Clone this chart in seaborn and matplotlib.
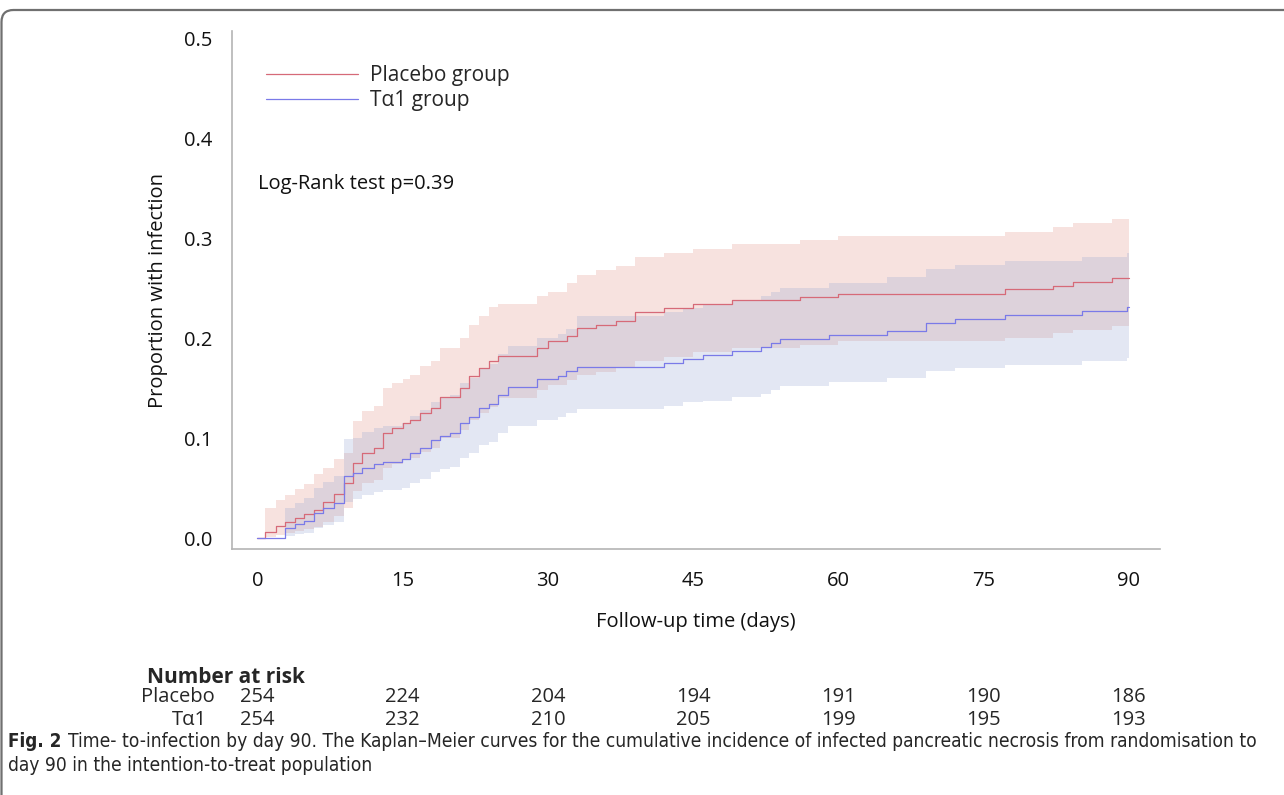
import matplotlib
matplotlib.use("Agg")
import matplotlib.pyplot as plt
import matplotlib.transforms as mtransforms
from matplotlib.patches import FancyBboxPatch
import seaborn as sns
import pandas as pd

# Kaplan-Meier cumulative incidence
placebo_days = [0, 0.8, 1.9, 2.9, 3.9, 4.8, 5.8, 6.8, 7.9, 8.9, 9.9, 10.8, 12, 13, 13.9, 15,
                15.8, 16.8, 17.9, 18.9, 20.9, 21.9, 22.9, 23.9, 24.9, 28.9, 30, 32, 33, 35,
                37, 39, 42, 45, 49, 56, 60, 77.2, 82.2, 84.2, 88.2, 90]
placebo_est = [0, 0.006, 0.012, 0.016, 0.020, 0.024, 0.028, 0.036, 0.044, 0.055, 0.075, 0.085,
               0.090, 0.105, 0.110, 0.115, 0.118, 0.125, 0.130, 0.141, 0.150, 0.162, 0.170,
               0.177, 0.182, 0.190, 0.197, 0.202, 0.210, 0.213, 0.217, 0.226, 0.230, 0.234,
               0.238, 0.242, 0.245, 0.250, 0.253, 0.257, 0.261, 0.261]
placebo_lo = [0, 0.001, 0.003, 0.005, 0.007, 0.009, 0.011, 0.016, 0.022, 0.030, 0.047, 0.055,
              0.058, 0.070, 0.074, 0.078, 0.080, 0.086, 0.090, 0.100, 0.108, 0.118, 0.125,
              0.131, 0.140, 0.148, 0.153, 0.158, 0.163, 0.166, 0.170, 0.177, 0.181, 0.186,
              0.190, 0.193, 0.197, 0.200, 0.205, 0.208, 0.212, 0.212]
placebo_hi = [0, 0.030, 0.038, 0.043, 0.049, 0.054, 0.064, 0.070, 0.079, 0.085, 0.117, 0.127,
              0.132, 0.150, 0.155, 0.159, 0.163, 0.172, 0.177, 0.190, 0.200, 0.213, 0.222,
              0.231, 0.234, 0.243, 0.247, 0.256, 0.264, 0.269, 0.273, 0.282, 0.286, 0.290,
              0.295, 0.299, 0.303, 0.307, 0.312, 0.316, 0.320, 0.320]

ta1_days = [0, 2.9, 3.9, 4.8, 5.8, 6.8, 7.9, 8.9, 9.9, 10.8, 12, 13, 14.9, 15.8, 16.8, 17.9,
            18.9, 19.9, 20.9, 21.9, 22.9, 23.9, 24.9, 25.9, 28.9, 31, 31.9, 33, 42, 44, 46,
            49, 52, 53, 54, 59, 65, 69, 72, 77.2, 85.2, 89.8, 90]
ta1_est = [0, 0.010, 0.014, 0.017, 0.025, 0.030, 0.035, 0.062, 0.065, 0.070, 0.074, 0.076,
           0.079, 0.085, 0.090, 0.098, 0.102, 0.105, 0.115, 0.121, 0.130, 0.134, 0.143, 0.151,
           0.159, 0.162, 0.167, 0.171, 0.175, 0.179, 0.183, 0.187, 0.191, 0.195, 0.199, 0.203,
           0.207, 0.215, 0.219, 0.223, 0.227, 0.231, 0.231]
ta1_lo = [0, 0.002, 0.004, 0.005, 0.010, 0.013, 0.016, 0.036, 0.039, 0.043, 0.046, 0.048,
          0.050, 0.055, 0.059, 0.066, 0.069, 0.071, 0.080, 0.085, 0.093, 0.096, 0.105, 0.112,
          0.118, 0.121, 0.125, 0.129, 0.132, 0.136, 0.137, 0.141, 0.144, 0.148, 0.152, 0.156,
          0.160, 0.167, 0.170, 0.173, 0.177, 0.180, 0.180]
ta1_hi = [0, 0.030, 0.035, 0.040, 0.050, 0.056, 0.062, 0.099, 0.100, 0.106, 0.110, 0.112,
          0.115, 0.122, 0.128, 0.136, 0.140, 0.143, 0.155, 0.160, 0.170, 0.174, 0.184, 0.192,
          0.200, 0.204, 0.209, 0.222, 0.226, 0.230, 0.234, 0.238, 0.243, 0.247, 0.251, 0.256,
          0.262, 0.270, 0.274, 0.278, 0.282, 0.286, 0.286]

risk_days = [0, 15, 30, 45, 60, 75, 90]
risk_placebo = [254, 224, 204, 194, 191, 190, 186]
risk_ta1 = [254, 232, 210, 205, 199, 195, 193]

sns.set_style("white")
plt.rcParams['font.family'] = ['Open Sans', 'DejaVu Sans']

df = pd.concat([
    pd.DataFrame({'day': placebo_days, 'prop': placebo_est, 'group': 'Placebo group'}),
    pd.DataFrame({'day': ta1_days, 'prop': ta1_est, 'group': 'Tα1 group'}),
])

red_line, blue_line = '#d66a78', '#7a7ae8'
red_fill, blue_fill = '#e38f83', '#93a3d3'

fig = plt.figure(figsize=(12.84, 7.95), dpi=100)
ax = fig.add_axes([0.1808, 0.3094, 0.7226, 0.6516])

ax.fill_between(placebo_days, placebo_lo, placebo_hi, step='post', color=red_fill,
                alpha=0.25, lw=0)
ax.fill_between(ta1_days, ta1_lo, ta1_hi, step='post', color=blue_fill, alpha=0.25, lw=0)
sns.lineplot(data=df, x='day', y='prop', hue='group', estimator=None, sort=False,
             palette={'Placebo group': red_line, 'Tα1 group': blue_line},
             drawstyle='steps-post', lw=0.9, ax=ax)

ax.set_xlim(-2.6, 93.2)
ax.set_ylim(-0.011, 0.508)
ax.set_xticks(risk_days)
ax.set_yticks([0.0, 0.1, 0.2, 0.3, 0.4, 0.5])
ax.set_yticklabels(['0.0', '0.1', '0.2', '0.3', '0.4', '0.5'])
for s in ['top', 'right']:
    ax.spines[s].set_visible(False)
for s in ['left', 'bottom']:
    ax.spines[s].set_color('#b4b4b4')
    ax.spines[s].set_linewidth(1.2)
ax.tick_params(axis='both', length=7, width=1, color='#b4b4b4', labelsize=14.5,
               labelcolor='#111111', direction='out', pad=7)
ax.tick_params(axis='x', pad=9)
ax.set_xlabel('Follow-up time (days)', fontsize=14.5, labelpad=15, color='#111111')
ax.set_ylabel('Proportion with infection', fontsize=14.5, labelpad=12, color='#111111')

ax.legend(loc='upper left', bbox_to_anchor=(0.037, 0.934), frameon=False, fontsize=15,
          handlelength=4.4, handletextpad=0.55, labelspacing=0.2, borderpad=0,
          borderaxespad=0)
ax.text(0.028, 0.705, 'Log-Rank test p=0.39', transform=ax.transAxes, fontsize=14.5,
        color='#111111', va='center')

# number at risk table
tr = mtransforms.blended_transform_factory(ax.transData, fig.transFigure)
fig.text(0.1145, 0.1484, 'Number at risk', fontsize=15, fontweight='bold', va='center')
fig.text(0.1674, 0.1233, 'Placebo', fontsize=14.5, ha='right', va='center')
fig.text(0.1612, 0.0943, 'Tα1', fontsize=14.5, ha='right', va='center')
for d, p, t in zip(risk_days, risk_placebo, risk_ta1):
    ax.text(d, 0.1233, str(p), transform=tr, fontsize=14.5, ha='center', va='center')
    ax.text(d, 0.0943, str(t), transform=tr, fontsize=14.5, ha='center', va='center')

# caption, sized so that the first line spans the figure width like the original
cap = dict(family=['DejaVu Sans', 'Open Sans'], fontstretch='condensed', va='center')
renderer = fig.canvas.get_renderer()
bold = fig.text(0.0062, 0.0679, 'Fig. 2', fontsize=13.5, fontweight='bold', **cap)
bb = bold.get_window_extent(renderer=renderer)
x0 = bb.x1 + 7
line1 = fig.text(x0 / fig.bbox.width, 0.0679,
                 'Time- to-infection by day 90. The Kaplan–Meier curves for the cumulative '
                 'incidence of infected pancreatic necrosis from randomisation to',
                 fontsize=13, **cap)
w = line1.get_window_extent(renderer=renderer).width
size = 13 * (1262 - x0) / w
line1.set_fontsize(size)
fig.text(0.0062, 0.0377, 'day 90 in the intention-to-treat population', fontsize=size,
         **cap)

# rounded frame (top and left edges visible)
frame = FancyBboxPatch((1.5, -60), 1400, 845, boxstyle='round,pad=0,rounding_size=12',
                       transform=mtransforms.IdentityTransform(), fill=False,
                       edgecolor='#707070', lw=1.6)
fig.add_artist(frame)

fig.savefig('out.png', dpi=100)
